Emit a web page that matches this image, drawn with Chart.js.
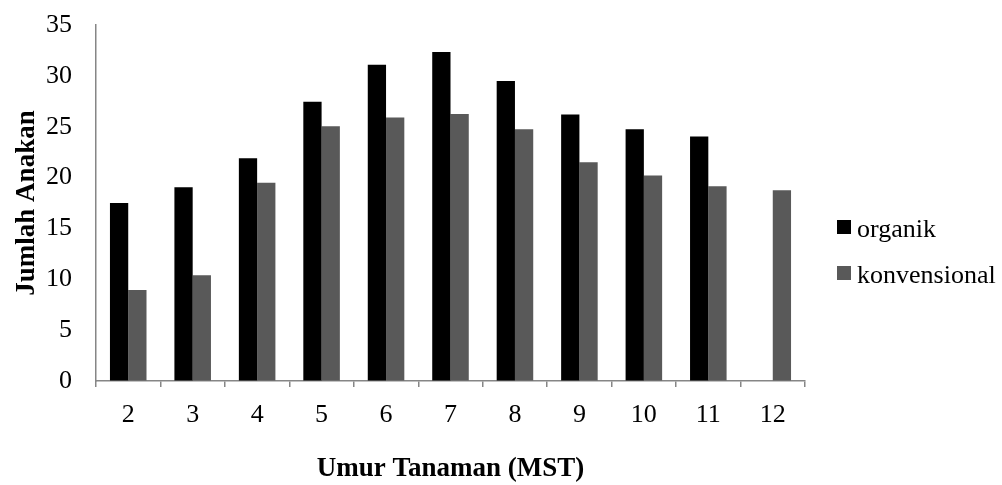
<!DOCTYPE html>
<html>
<head>
<meta charset="utf-8">
<script src="https://cdn.jsdelivr.net/npm/chart.js@4/dist/chart.umd.min.js"></script>
<style>
  body { margin: 0; background: #fff; }
  #wrap { width: 1002px; height: 485px; }
</style>
</head>
<body>
<div id="wrap"><canvas id="chart"></canvas></div>
<script>
const weeks = ['2', '3', '4', '5', '6', '7', '8', '9', '10', '11', '12'];
const organik = [17.5, 19.05, 21.9, 27.45, 31.1, 32.35, 29.5, 26.2, 24.75, 24.05, null];
const konvensional = [8.95, 10.4, 19.5, 25.05, 25.9, 26.25, 24.75, 21.5, 20.2, 19.15, 18.75];

const AXIS_GREY = '#868686';
const SERIF = '"Liberation Serif", "Times New Roman", serif';

// legend drawn to the right of the plot, like the spreadsheet original
const sideLegend = {
    id: 'sideLegend',
    afterDraw(chart) {
        const c = chart.ctx;
        const area = chart.chartArea;
        const x = area.right + 32;
        const rows = [area.top + 195, area.top + 241];
        c.save();
        c.font = `26px ${SERIF}`;
        c.textBaseline = 'alphabetic';
        c.textAlign = 'left';
        chart.data.datasets.forEach((ds, i) => {
            const top = rows[i];
            c.fillStyle = ds.backgroundColor;
            c.fillRect(x, top, 14, 14);
            c.fillStyle = '#000';
            c.fillText(ds.label, x + 20, top + 16.5);
        });
        c.restore();
    },
};

const ctx = document.getElementById('chart').getContext('2d');

new Chart(ctx, {
    type: 'bar',
    data: {
        labels: weeks,
        datasets: [
            {
                label: 'organik',
                data: organik,
                backgroundColor: '#000000',
                borderWidth: 0,
            },
            {
                label: 'konvensional',
                data: konvensional,
                backgroundColor: '#595959',
                borderWidth: 0,
            },
        ],
    },
    options: {
        responsive: true,
        maintainAspectRatio: false,
        animation: false,
        layout: {
            padding: { top: 25, right: 197, bottom: 0, left: 0 },
        },
        datasets: {
            bar: {
                categoryPercentage: 0.567,
                barPercentage: 1.0,
            },
        },
        scales: {
            x: {
                grid: {
                    offset: true,
                    drawOnChartArea: false,
                    drawTicks: true,
                    tickLength: 6,
                    color: AXIS_GREY,
                    lineWidth: 1.5,
                },
                border: { display: true, color: AXIS_GREY, width: 1.5 },
                ticks: {
                    color: '#000',
                    padding: 13,
                    font: { family: SERIF, size: 26 },
                },
                title: {
                    display: true,
                    text: 'Umur Tanaman (MST)',
                    color: '#000',
                    padding: { top: 0, bottom: 0 },
                    font: { family: SERIF, size: 27, weight: 'bold' },
                },
                afterFit: (scale) => { scale.height = 104; },
            },
            y: {
                min: 0,
                max: 35,
                grid: {
                    display: true,
                    drawOnChartArea: false,
                    drawTicks: true,
                    tickLength: 22,
                    tickColor: 'rgba(0,0,0,0)',
                },
                border: { display: true, color: AXIS_GREY, width: 1.5 },
                ticks: {
                    stepSize: 5,
                    color: '#000',
                    padding: 2,
                    font: { family: SERIF, size: 26 },
                },
                title: {
                    display: true,
                    text: 'Jumlah Anakan',
                    color: '#000',
                    padding: { top: 11, bottom: 0 },
                    font: { family: SERIF, size: 27, weight: 'bold' },
                },
                afterFit: (scale) => { scale.width = 96; },
            },
        },
        plugins: {
            legend: { display: false },
            tooltip: { enabled: false },
        },
    },
    plugins: [sideLegend],
});
</script>
</body>
</html>
